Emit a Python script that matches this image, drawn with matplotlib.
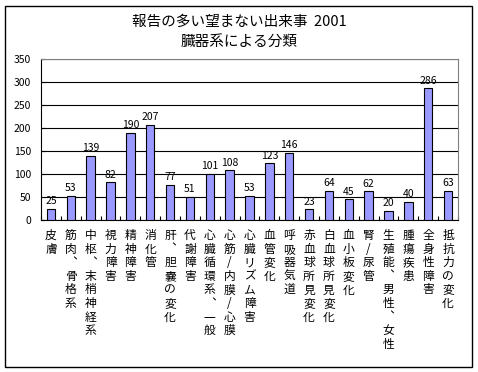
import matplotlib
matplotlib.use("Agg")
import matplotlib.pyplot as plt
from matplotlib.patches import Rectangle
import numpy as np

plt.rcParams['font.family'] = ['Noto Sans CJK JP', 'DejaVu Sans']

# categories and counts
categories = ["皮膚", "筋肉︑骨格系", "中枢︑末梢神経系", "視力障害", "精神障害", "消化管",
              "肝︑胆嚢の変化", "代謝障害", "心臓循環系︑一般", "心筋/内膜/心膜", "心臓リズム障害",
              "血管変化", "呼吸器気道", "赤血球所見変化", "白血球所見変化", "血小板変化",
              "腎/尿管", "生殖能︑男性︑女性", "腫瘍疾患", "全身性障害", "抵抗力の変化"]
counts = [25, 53, 139, 82, 190, 207, 77, 51, 101, 108, 53,
          123, 146, 23, 64, 45, 62, 20, 40, 286, 63]
yticks = [0, 50, 100, 150, 200, 250, 300, 350]

fig = plt.figure(figsize=(4.78, 3.72), dpi=100)
fig.patches.append(Rectangle((5/478, 5/372), 467/478, 361/372, transform=fig.transFigure,
                             fill=False, edgecolor='black', linewidth=1))

ax = fig.add_axes([41/478, 1-220/372, 417/478, 161/372])
x = np.arange(len(categories))
ax.bar(x, counts, width=0.42, color='#9999ff', edgecolor='black', linewidth=0.8, zorder=3)
for xi, v in zip(x, counts):
    ax.text(xi, v + 6, str(v), ha='center', va='bottom', fontsize=7.5, zorder=4)

ax.set_xlim(-0.5, len(categories) - 0.5)
ax.set_ylim(0, 350)
ax.set_yticks(yticks)
ax.tick_params(axis='y', labelsize=7.5, length=3, direction='in', pad=7)
ax.yaxis.grid(True, color='black', linewidth=0.8, zorder=0)
ax.set_xticks([])
ax.set_xticks(np.arange(-0.5, len(categories)), minor=True)
ax.tick_params(axis='x', which='minor', direction='in', length=3, width=0.8)
ax.spines['top'].set_color('gray')
ax.spines['right'].set_color('gray')

for xi, lab in zip(x, categories):
    ax.text(xi, -9/161, "\n".join(lab), transform=ax.get_xaxis_transform(),
            ha='center', va='top', fontsize=8.5, linespacing=1.06)

fig.text(0.5, 1-22/372, "報告の多い望まない出来事  2001", ha='center', va='center', fontsize=10.5)
fig.text(0.5, 1-42/372, "臓器系による分類", ha='center', va='center', fontsize=10.5)

fig.savefig("out.png", dpi=100)
